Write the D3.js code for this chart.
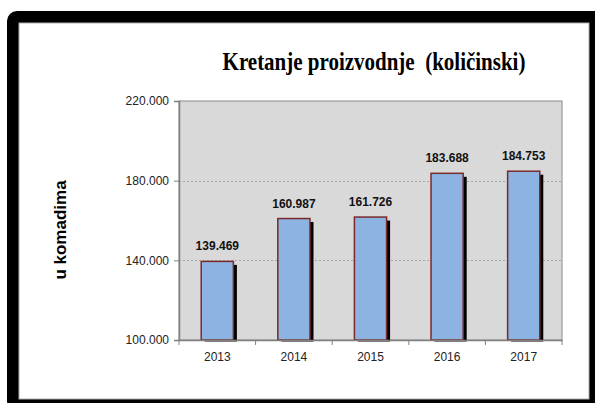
<!DOCTYPE html>
<html>
<head>
<meta charset="utf-8">
<script src="https://cdn.jsdelivr.net/npm/d3@7"></script>
<style>
  body { margin: 0; background: #fff; }
  svg { display: block; }
</style>
</head>
<body>
<div id="chart"></div>
<script>
// chart data
var years = ["2013", "2014", "2015", "2016", "2017"];
var values = [139469, 160987, 161726, 183688, 184753];
var yTicks = [100000, 140000, 180000, 220000];
var titleText = "Kretanje proizvodnje\u00a0 (količinski)";
var yLabel = "u komadima";

var svgWidth = 595;
var svgHeight = 403;

var margin = { top: 101, right: 33, bottom: 63, left: 179 };
var width = svgWidth - margin.left - margin.right;
var height = svgHeight - margin.top - margin.bottom;

var svg = d3.select("#chart")
  .append("svg")
  .attr("width", svgWidth)
  .attr("height", svgHeight);

// thick black frame, cut off at right and bottom
svg.append("rect")
  .attr("x", 7).attr("y", 11)
  .attr("width", 600).attr("height", 400)
  .attr("rx", 10)
  .attr("fill", "#000");
svg.append("rect")
  .attr("x", 19).attr("y", 23)
  .attr("width", 570).attr("height", 376)
  .attr("fill", "#fff")
  .attr("stroke", "#b0b0b0")
  .attr("stroke-width", 1);

// title (slightly stretched vertically like the original)
svg.append("text")
  .attr("transform", "translate(374, 70) scale(1, 1.15)")
  .attr("text-anchor", "middle")
  .style("font-family", "'Liberation Serif', 'Times New Roman', serif")
  .style("font-weight", "bold")
  .style("font-size", "21px")
  .attr("fill", "#000")
  .text(titleText);

// y label
svg.append("text")
  .attr("transform", "translate(66, 230) rotate(-90)")
  .attr("text-anchor", "middle")
  .style("font-family", "'Liberation Sans', Arial, sans-serif")
  .style("font-weight", "bold")
  .style("font-size", "17px")
  .attr("fill", "#000")
  .text(yLabel);

var chartGroup = svg.append("g")
  .attr("transform", `translate(${margin.left}, ${margin.top})`);

var xScale = d3.scaleBand()
  .domain(years)
  .range([0, width])
  .paddingInner(0.58)
  .paddingOuter(0.29);

var yScale = d3.scaleLinear()
  .domain([100000, 220000])
  .range([height, 0]);

// plot background
chartGroup.append("rect")
  .attr("width", width)
  .attr("height", height)
  .attr("fill", "#d9d9d9")
  .attr("stroke", "#8a8a8a")
  .attr("stroke-width", 1);

// gridlines
chartGroup.selectAll(".grid")
  .data(yTicks.slice(1, -1))
  .enter()
  .append("line")
  .attr("x1", 0).attr("x2", width)
  .attr("y1", d => Math.round(yScale(d)) + 0.5)
  .attr("y2", d => Math.round(yScale(d)) + 0.5)
  .attr("stroke", "#a6a6a6")
  .attr("stroke-dasharray", "2,2");

// shadows
chartGroup.selectAll(".shadow")
  .data(values)
  .enter()
  .append("rect")
  .attr("x", (d, i) => xScale(years[i]) + 3.5)
  .attr("y", d => yScale(d) + 3.5)
  .attr("width", xScale.bandwidth())
  .attr("height", d => height - yScale(d) - 2)
  .attr("fill", "#000");

// bars
chartGroup.selectAll(".bar")
  .data(values)
  .enter()
  .append("rect")
  .attr("x", (d, i) => xScale(years[i]))
  .attr("y", d => yScale(d))
  .attr("width", xScale.bandwidth())
  .attr("height", d => height - yScale(d))
  .attr("fill", "#8db3e2")
  .attr("stroke", "#7a2a2a")
  .attr("stroke-width", 1.5);

// value labels
chartGroup.selectAll(".val")
  .data(values)
  .enter()
  .append("text")
  .attr("transform", (d, i) => `translate(${xScale(years[i]) + xScale.bandwidth() / 2}, ${yScale(d) - 11}) scale(1, 1.12)`)
  .attr("text-anchor", "middle")
  .style("font-family", "'Liberation Sans', Arial, sans-serif")
  .style("font-weight", "bold")
  .style("font-size", "12px")
  .attr("fill", "#111")
  .text(d => d3.format(",")(d).replace(/,/g, "."));

// axes
var leftAxis = d3.axisLeft(yScale)
  .tickValues(yTicks)
  .tickSize(5)
  .tickPadding(5)
  .tickFormat(d => d3.format(",")(d).replace(/,/g, "."));

var yAxisG = chartGroup.append("g").call(leftAxis);
yAxisG.select(".domain").attr("stroke", "#808080").attr("stroke-width", 1.5);
yAxisG.selectAll(".tick line").attr("stroke", "#808080");
yAxisG.selectAll("text")
  .style("font-family", "'Liberation Sans', Arial, sans-serif")
  .style("font-size", "12px")
  .attr("fill", "#222");

// x axis with ticks at category boundaries
var bottomAxis = d3.axisBottom(xScale)
  .tickSize(0)
  .tickPadding(12);

var xAxisG = chartGroup.append("g")
  .attr("transform", `translate(0, ${height})`)
  .call(bottomAxis);
xAxisG.select(".domain").attr("stroke", "#808080").attr("stroke-width", 1.5);
xAxisG.selectAll("text")
  .style("font-family", "'Liberation Sans', Arial, sans-serif")
  .style("font-size", "12px")
  .attr("fill", "#222");

var step = xScale.step();
xAxisG.selectAll(".sep")
  .data(d3.range(years.length + 1))
  .enter()
  .append("line")
  .attr("x1", i => xScale(years[0]) - xScale.paddingOuter() * step + i * step)
  .attr("x2", i => xScale(years[0]) - xScale.paddingOuter() * step + i * step)
  .attr("y1", 0).attr("y2", 5)
  .attr("stroke", "#808080");
</script>
</body>
</html>
